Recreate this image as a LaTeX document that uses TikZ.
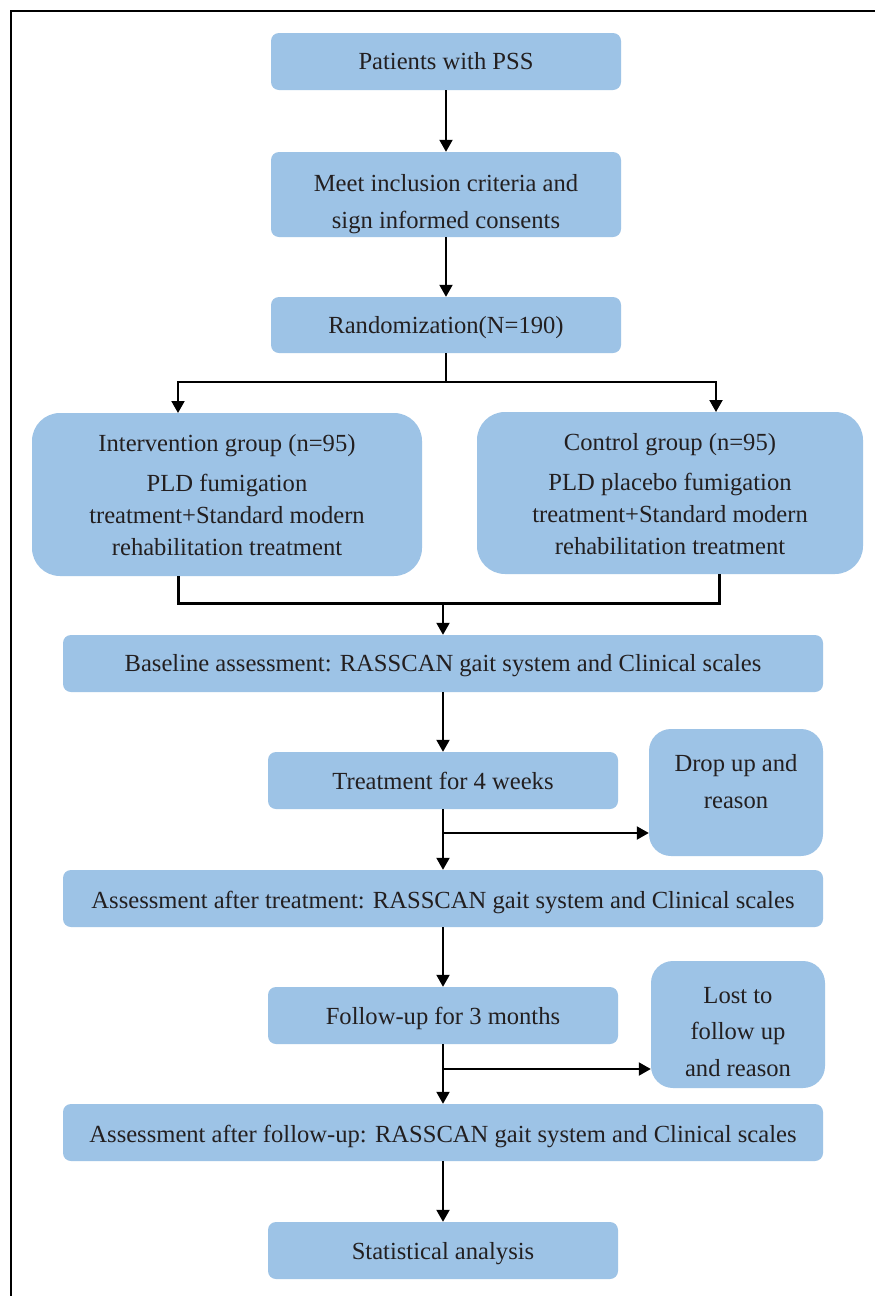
\documentclass[tikz,border=0pt]{standalone}
\usepackage{fontspec}
\setmainfont{Liberation Serif}
\usetikzlibrary{arrows.meta}
\definecolor{boxblue}{HTML}{9DC3E6}
\definecolor{txtgray}{HTML}{231F20}
\begin{document}
\begin{tikzpicture}[x=1pt,y=-1pt,
  box/.style={fill=boxblue, draw=none, inner sep=0pt, rounded corners=8pt},
  bigbox/.style={box, rounded corners=28pt},
  sidebox/.style={box, rounded corners=22pt},
  txt/.style={text=txtgray, align=center, inner sep=0pt,
    font=\fontsize{24.6}{36.5}\selectfont},
  line/.style={anchor=base},
  bigtxt/.style={txt, font=\fontsize{24.6}{32}\selectfont},
  conn/.style={line width=2pt, draw=black},
  arr/.style={conn, -{Triangle[length=12pt,width=13pt]}}
]
\useasboundingbox (0,0) rectangle (875,1296);
\fill[white] (0,0) rectangle (875,1296);
\draw[line width=2.8pt] (11,1320) -- (11,11) -- (900,11);

% boxes
\node[box, minimum width=350pt, minimum height=57pt] (n1) at (446,61.5) {};
\node[box, minimum width=350pt, minimum height=85pt] (n2) at (446,194.5) {};
\node[box, minimum width=350pt, minimum height=56pt] (n3) at (446,325) {};
\node[bigbox, minimum width=390pt, minimum height=163pt] (ga) at (227,494.5) {};
\node[bigbox, minimum width=386pt, minimum height=162pt] (gb) at (670,493) {};
\node[box, minimum width=760pt, minimum height=57pt] (n6) at (443,663.5) {};
\node[box, minimum width=350pt, minimum height=57pt] (n7) at (443,780.5) {};
\node[sidebox, minimum width=174pt, minimum height=127pt] (d1) at (736,792.5) {};
\node[box, minimum width=760pt, minimum height=57pt] (n9) at (443,898.5) {};
\node[box, minimum width=350pt, minimum height=57pt] (n10) at (443,1015.5) {};
\node[sidebox, minimum width=174pt, minimum height=127pt] (d2) at (738,1024.5) {};
\node[box, minimum width=760pt, minimum height=57pt] (n12) at (443,1132.5) {};
\node[box, minimum width=350pt, minimum height=57pt] (n13) at (443,1250.5) {};

% texts
\node[txt, line] (n1t) at (446,69.5) {Patients with PSS};
\node[txt] (n2t) at (446,204) {Meet inclusion criteria and\\sign informed consents};
\node[txt, line] (n3t) at (446,333) {Randomization(N=190)};
\node[bigtxt] (gat) at (227,495.5) {Intervention group (n=95)\\[8pt]PLD fumigation\\treatment+Standard modern\\rehabilitation treatment};
\node[bigtxt] (gbt) at (670,494.5) {Control group (n=95)\\[8pt]PLD placebo fumigation\\treatment+Standard modern\\rehabilitation treatment};
\node[txt, line] (n6t) at (443,671.5) {Baseline assessment: RASSCAN gait system and Clinical scales};
\node[txt, line] (n7t) at (443,789) {Treatment for 4 weeks};
\node[txt] (d1t) at (736,781.5) {Drop up and\\reason};
\node[txt, line] (n9t) at (443,908) {Assessment after treatment: RASSCAN gait system and Clinical scales};
\node[txt, line] (n10t) at (443,1024) {Follow-up for 3 months};
\node[txt] (d2t) at (738,1032) {Lost to\\follow up\\and reason};
\node[txt, line] (n12t) at (443,1142) {Assessment after follow-up: RASSCAN gait system and Clinical scales};
\node[txt, line] (n13t) at (443,1259) {Statistical analysis};

% connectors
\draw[arr] (n1) -- (n2);
\draw[arr] (n2) -- (n3);

\coordinate (split) at (446,382);
\coordinate (ta) at (178,413);
\coordinate (tb) at (716,412);
\draw[conn] (n3.south) -- (split);
\draw[arr] (split) -| (ta);
\draw[arr] (split) -| (tb);

\coordinate (ma) at (178,603);
\coordinate (mb) at (719,603);
\coordinate (mc) at (443,603);
\draw[line width=3pt] (ga.south -| ma) -- (ma) -- (mb) -- (gb.south -| mb);
\draw[arr] (mc) -- (n6.north);

\draw[arr] (n6) -- (n7);
\draw[arr] (n7) -- (n9);
\coordinate (b1) at (443,833);
\draw[arr] (b1) -- (b1 -| d1.west);

\draw[arr] (n9) -- (n10);
\draw[arr] (n10) -- (n12);
\coordinate (b2) at (443,1069);
\draw[arr] (b2) -- (b2 -| d2.west);

\draw[arr] (n12) -- (n13);
\end{tikzpicture}
\end{document}
